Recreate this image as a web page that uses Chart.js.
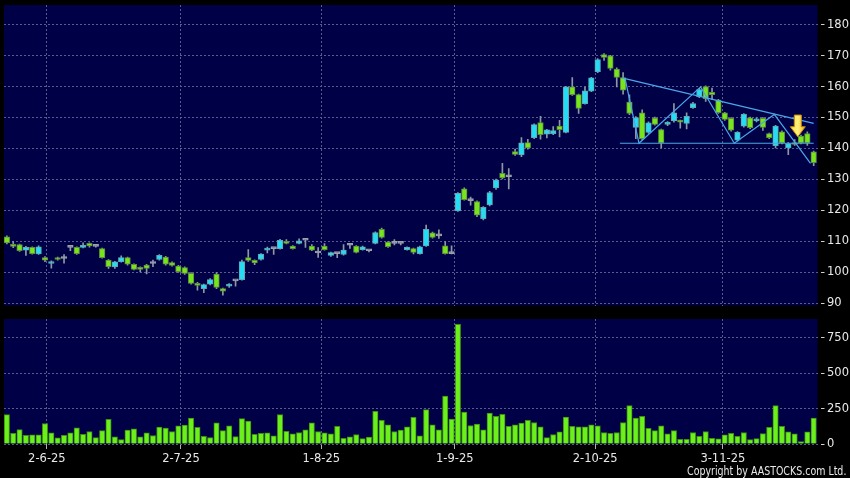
<!DOCTYPE html>
<html>
<head>
<meta charset="utf-8">
<script src="https://cdn.jsdelivr.net/npm/chart.js@4.4.1/dist/chart.umd.min.js"></script>
<style>
  html, body { margin: 0; padding: 0; background: #000; }
  #wrap { position: relative; width: 850px; height: 478px; overflow: hidden; background: #000; }
  #price { position: absolute; left: 0; top: 0; }
  #volume { position: absolute; left: 0; top: 310px; }
  #copy {
    position: absolute; right: 4px; top: 463px; color: #e8e8e8;
    font: 12.5px "DejaVu Sans Condensed", "DejaVu Sans", sans-serif;
    white-space: nowrap; transform-origin: right center;
  }
</style>
</head>
<body>
<div id="wrap">
  <canvas id="price" width="850" height="310"></canvas>
  <canvas id="volume" width="850" height="168"></canvas>
  <div id="copy">Copyright by AASTOCKS.com Ltd.</div>
</div>
<script>
// daily candles, oldest first (one per trading day)
const opens = [
  111.5,108.7,109.0,107.2,108.1,106.0,104.8,102.9,104.8,104.5,
  108.1,108.1,108.1,109.4,108.4,107.7,104.0,101.8,103.5,104.8,
  102.6,101.6,102.4,102.9,104.2,105.0,103.2,102.1,101.6,99.7,
  96.5,94.8,96.2,99.5,94.8,95.6,97.3,97.7,104.8,103.9,
  104.2,107.2,107.7,107.7,109.9,108.5,109.4,110.4,108.5,106.3,
  108.5,105.5,106.1,105.8,108.8,108.5,107.4,107.0,109.4,113.9,
  109.8,109.4,109.4,107.4,107.7,106.1,108.6,112.8,111.8,108.6,
  106.1,119.9,127.0,123.2,122.9,117.4,121.8,127.3,132.0,130.9,
  139.0,137.9,141.9,143.5,148.4,144.6,144.8,147.2,145.2,159.9,
  157.4,154.5,158.5,164.8,170.3,169.9,165.6,162.9,155.0,146.8,
  151.5,145.2,149.8,146.1,147.8,148.9,149.0,148.1,153.2,156.7,
  160.0,158.1,155.6,151.5,149.7,142.7,147.2,149.9,148.9,149.7,
  144.8,140.9,145.4,140.2,141.8,144.0,144.8,138.9
];
const closes = [
  109.5,108.4,107.0,108.1,106.1,108.3,104.0,103.5,104.2,104.5,
  108.1,106.1,108.8,108.6,108.4,104.8,101.9,103.4,104.8,102.7,
  101.0,101.0,101.3,102.9,105.5,102.7,102.3,100.3,99.7,96.5,
  95.8,96.1,97.7,95.2,94.0,96.2,97.3,103.5,103.9,103.1,
  105.9,107.7,107.7,110.4,109.4,107.7,110.2,110.4,107.2,106.3,
  107.4,106.4,106.1,107.2,108.8,106.5,108.3,107.0,112.9,111.3,
  108.3,109.4,109.4,108.1,106.5,108.3,113.9,111.3,111.8,106.1,
  106.1,125.5,123.5,123.2,118.5,121.0,125.8,129.8,130.5,130.9,
  138.1,141.8,140.2,147.7,144.5,146.0,145.8,146.1,159.9,157.4,
  152.9,158.6,162.8,168.7,169.4,165.8,162.9,158.8,151.3,150.0,
  143.2,148.3,147.8,141.8,148.4,151.5,148.5,150.4,154.5,159.0,
  156.1,157.4,151.6,149.4,145.9,145.2,151.0,146.7,149.6,146.8,
  143.5,147.2,141.8,141.6,141.3,141.8,141.8,135.4
];
const highs = [
  111.8,110.0,109.2,108.4,108.3,108.6,105.1,103.8,105.0,105.8,
  108.3,108.3,109.6,109.6,108.6,107.9,104.2,103.6,105.4,105.0,
  102.8,101.8,102.6,104.0,105.8,105.2,103.4,102.3,101.8,100.0,
  96.8,96.3,98.0,100.0,95.0,96.4,97.5,104.0,107.4,104.1,
  106.1,108.2,107.9,110.7,110.6,108.7,110.9,110.6,109.0,108.0,
  109.3,106.6,106.3,109.0,109.4,108.7,108.5,107.2,113.1,114.3,
  110.0,110.6,109.6,108.3,107.9,108.5,115.3,113.0,113.8,110.0,
  108.6,125.8,127.3,124.3,123.1,121.3,126.2,130.1,135.2,133.5,
  139.8,143.5,143.0,148.0,150.4,146.2,147.1,149.1,160.1,162.9,
  157.6,159.8,163.0,169.0,170.6,170.1,166.0,164.5,157.3,150.3,
  152.5,148.6,150.1,146.3,148.7,154.5,149.2,151.5,154.9,159.4,
  160.2,159.5,155.9,151.7,150.0,145.5,151.3,150.1,149.9,150.0,
  145.0,147.5,145.7,141.9,142.9,144.3,145.4,139.2
];
const lows = [
  109.2,108.0,106.8,105.5,105.9,105.8,103.5,101.4,104.0,103.0,
  107.0,105.8,107.9,108.2,108.2,104.6,101.3,101.3,103.3,102.4,
  100.8,100.2,99.5,101.9,104.0,102.4,102.0,100.0,99.4,96.2,
  94.3,93.5,96.0,94.8,92.7,95.2,95.6,97.5,103.6,102.5,
  104.0,106.3,105.8,107.5,109.2,107.5,109.2,108.1,107.0,104.9,
  107.2,105.2,104.8,105.6,107.8,106.3,107.2,106.6,109.2,111.1,
  108.1,108.9,108.9,107.2,106.0,105.9,108.4,111.1,111.0,105.9,
  106.0,119.7,123.3,121.7,118.0,117.0,121.5,126.8,130.2,127.0,
  137.8,137.4,139.8,143.2,143.0,143.4,144.5,143.7,145.0,157.1,
  151.3,154.3,158.3,164.5,168.4,165.3,159.9,157.5,150.9,143.2,
  142.8,144.9,147.5,140.2,147.4,148.5,146.6,146.3,152.9,156.4,
  155.2,155.8,151.3,149.1,145.6,142.4,146.9,146.4,148.6,145.8,
  143.2,140.2,141.5,138.0,141.0,141.5,141.0,134.5
];
// volume, thousands of shares
const volumes = [
  207,76,102,62,64,64,145,79,43,62,
  79,114,69,88,45,95,174,50,31,98,
  107,50,79,60,119,112,88,129,133,183,
  117,55,45,150,95,129,52,179,162,69,
  76,79,57,207,90,71,81,100,150,88,
  79,71,124,40,50,67,38,48,231,167,
  136,88,98,121,188,57,243,136,100,338,
  176,845,226,131,140,100,219,195,209,124,
  136,148,167,152,121,45,67,86,190,124,
  121,121,136,129,81,76,81,152,271,183,
  195,110,95,129,71,95,33,33,81,55,
  88,40,36,64,76,55,81,31,38,74,
  117,271,124,86,71,17,86,183
];

// x axis: trading-day index of each date label
const dateTickPos = [6.3, 27.4, 49.5, 70.5, 92.6, 112.7];
const dateTickText = ['2-6-25', '2-7-25', '1-8-25', '1-9-25', '2-10-25', '3-11-25'];
const priceTicks = [90, 100, 110, 120, 130, 140, 150, 160, 170, 180];
const volumeTicks = [0, 250, 500, 750];

// drawn pattern lines (trading-day index, price)
const upperLine = [{x: 96.8, y: 162.8}, {x: 127.0, y: 148.1}];
const neckLine = [{x: 96.5, y: 141.7}, {x: 127.0, y: 141.7}];
const zigzag = [
  {x: 97.3, y: 162.6}, {x: 99.5, y: 141.7}, {x: 109.2, y: 159.9},
  {x: 114.5, y: 141.7}, {x: 120.8, y: 151.0}, {x: 126.5, y: 135.2}
];
const signalArrow = {x: 124.5, top: 150.8, tip: 143.8};

const UP = '#27dcf2', UP_EDGE = '#5fa8b4';
const DOWN = '#78e41c', DOWN_EDGE = '#5c8c3c';
const FLAT = '#9aa2aa';
const GRID = '#5a5a90';
const FONT = {family: '"DejaVu Sans", sans-serif', size: 11.5};

const plotBg = {
  id: 'plotBg',
  beforeDraw(chart) {
    const {ctx, chartArea: a} = chart;
    ctx.save();
    ctx.fillStyle = '#000046';
    ctx.fillRect(a.left, a.top, a.width, a.height);
    ctx.restore();
  }
};

const arrowPlugin = {
  id: 'arrow',
  afterDatasetsDraw(chart) {
    const {ctx, scales} = chart;
    const cx = scales.x.getPixelForValue(signalArrow.x);
    const top = scales.y.getPixelForValue(signalArrow.top);
    const tip = scales.y.getPixelForValue(signalArrow.tip);
    const headTop = tip - 10;
    ctx.save();
    ctx.beginPath();
    ctx.moveTo(cx - 3.5, top);
    ctx.lineTo(cx + 3.5, top);
    ctx.lineTo(cx + 3.5, headTop);
    ctx.lineTo(cx + 7.5, headTop);
    ctx.lineTo(cx, tip);
    ctx.lineTo(cx - 7.5, headTop);
    ctx.lineTo(cx - 3.5, headTop);
    ctx.closePath();
    const g = ctx.createLinearGradient(cx - 7, 0, cx + 7, 0);
    g.addColorStop(0, '#ffe24a');
    g.addColorStop(0.5, '#fff07a');
    g.addColorStop(1, '#f4b820');
    ctx.fillStyle = g;
    ctx.fill();
    ctx.strokeStyle = '#c88a10';
    ctx.lineWidth = 1;
    ctx.stroke();
    ctx.restore();
  }
};

const dir = opens.map((o, i) => closes[i] > o ? 1 : closes[i] < o ? -1 : 0);

const xDates = (showLabels) => ({
  type: 'linear',
  min: -0.45,
  max: 127.6,
  offset: false,
  afterBuildTicks(s) { s.ticks = dateTickPos.map(v => ({value: v})); },
  afterFit(s) {
    s.height = showLabels ? 34 : 0;
    s.paddingLeft = 0; s.paddingRight = 0;
  },
  border: {display: false, dash: [2, 2]},
  grid: {
    color: GRID, offset: false, drawTicks: showLabels, tickLength: 5,
    tickColor: '#b0b0b0', tickBorderDash: []
  },
  ticks: {
    display: showLabels, autoSkip: false, maxRotation: 0, padding: 3,
    color: '#e8e8e8', font: FONT,
    callback: (v, i) => dateTickText[i]
  }
});

const yRight = (tickValues, min, max) => ({
  type: 'linear',
  position: 'right',
  min, max,
  afterBuildTicks(s) { s.ticks = tickValues.map(v => ({value: v})); },
  afterFit(s) { s.width = 32.5; s.paddingTop = 0; s.paddingBottom = 0; },
  border: {display: false, dash: [2, 2]},
  grid: {
    color: GRID, drawTicks: true, tickLength: 7, tickWidth: 1,
    tickColor: '#d0d0d0', tickBorderDash: [4, 3], tickBorderDashOffset: 4
  },
  ticks: {padding: 2.5, color: '#e8e8e8', font: FONT, callback: v => String(v)}
});

new Chart(document.getElementById('price'), {
  type: 'bar',
  data: {
    datasets: [
      {type: 'line', data: upperLine, borderColor: '#4aa6e8', borderWidth: 1.2, pointRadius: 0, order: 0},
      {type: 'line', data: neckLine, borderColor: '#4aa6e8', borderWidth: 1.2, pointRadius: 0, order: 0},
      {type: 'line', data: zigzag, borderColor: '#4aa6e8', borderWidth: 1.2, pointRadius: 0, order: 0},
      {
        data: opens.map((o, i) => ({x: i, y: [o, closes[i]]})),
        backgroundColor: dir.map(d => d > 0 ? UP : d < 0 ? DOWN : FLAT),
        borderColor: dir.map(d => d > 0 ? UP_EDGE : d < 0 ? DOWN_EDGE : FLAT),
        borderWidth: 1, borderSkipped: false, minBarLength: 2,
        barThickness: 5.6, grouped: false, order: 1
      },
      {
        data: lows.map((l, i) => ({x: i, y: [l, highs[i]]})),
        backgroundColor: '#8e98a4',
        borderWidth: 0, barThickness: 1, grouped: false, order: 2
      }
    ]
  },
  options: {
    responsive: false,
    animation: false,
    layout: {padding: {left: 4, top: 5, right: 0, bottom: 4.5}},
    plugins: {legend: {display: false}, tooltip: {enabled: false}},
    scales: {
      x: xDates(false),
      y: yRight(priceTicks, 89.35, 186.3)
    }
  },
  plugins: [plotBg, arrowPlugin]
});

new Chart(document.getElementById('volume'), {
  type: 'bar',
  data: {
    datasets: [{
      data: volumes.map((v, i) => ({x: i, y: v})),
      backgroundColor: '#6cf01c',
      borderColor: '#3d8e12',
      borderWidth: 1, borderSkipped: 'start',
      barThickness: 5.4
    }]
  },
  options: {
    responsive: false,
    animation: false,
    layout: {padding: {left: 4, top: 9, right: 0, bottom: 0}},
    plugins: {legend: {display: false}, tooltip: {enabled: false}},
    scales: {
      x: xDates(true),
      y: yRight(volumeTicks, 0, 883)
    }
  },
  plugins: [plotBg]
});

// squeeze the copyright line to the width it has in the original
const copy = document.getElementById('copy');
copy.style.transform = 'scaleX(' + (159 / copy.offsetWidth) + ')';
</script>
</body>
</html>
